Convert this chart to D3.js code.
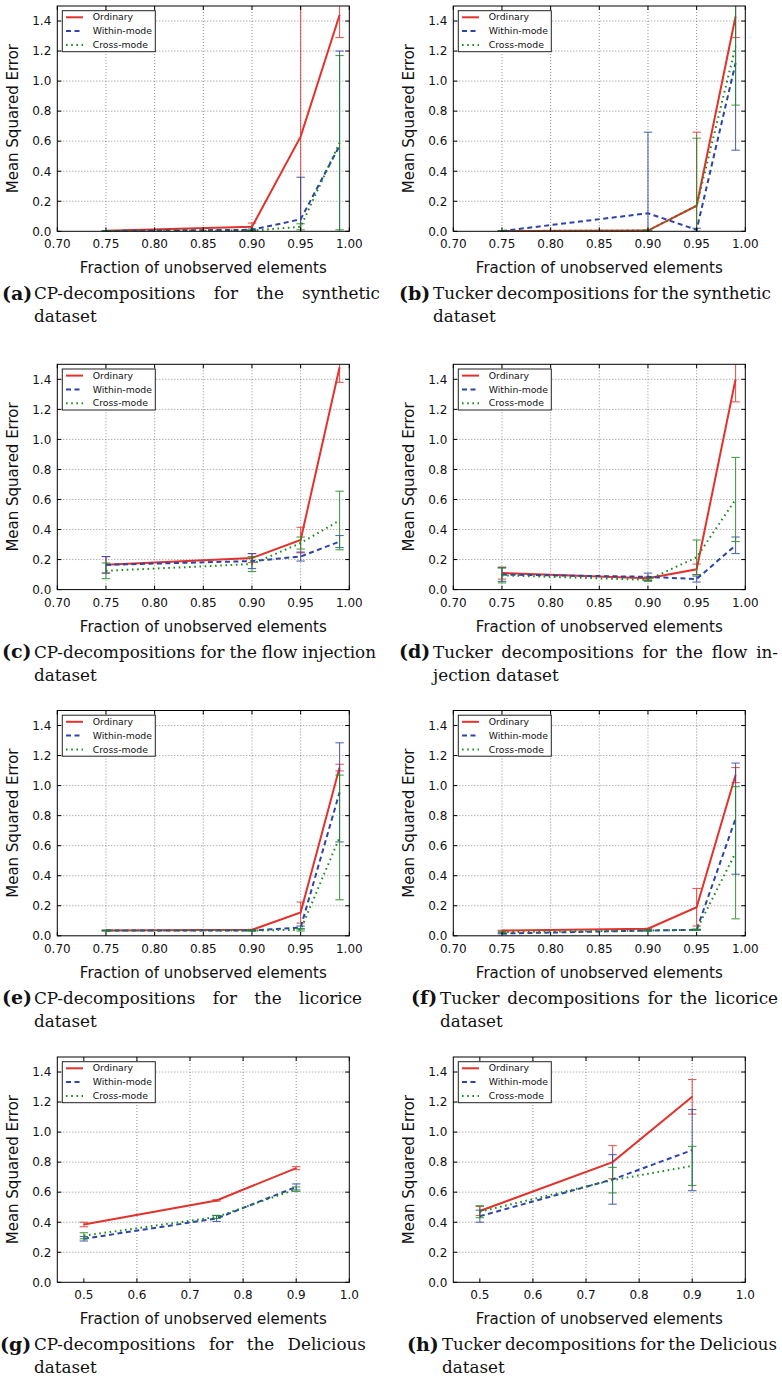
<!DOCTYPE html>
<html>
<head>
<meta charset="utf-8">
<script src="https://cdn.jsdelivr.net/npm/d3@7"></script>
<style>
  html, body { margin: 0; padding: 0; background: #fff; }
  svg { display: block; }
</style>
</head>
<body>
<svg id="chart" width="782" height="1376"></svg>
<script>
// x positions (fraction of unobserved elements)
const xFrac = [0.75, 0.90, 0.95, 0.99];
const xDelicious = [0.5, 0.75, 0.9];

const seriesNames = ['Ordinary', 'Within-mode', 'Cross-mode'];
const seriesColors = ['#e3322c', '#2e44a6', '#1d8a1d'];
const seriesDash = [null, '5,3.5', '1.6,3.6'];

// mean squared error, rows = Ordinary, Within-mode, Cross-mode
const synthCpMean  = [[0.003, 0.03, 0.63, 1.44], [0.002, 0.01, 0.08, 0.57], [0.002, 0.005, 0.03, 0.59]];
const synthCpErr   = [[0.002, 0.025, 1.0, 0.15], [0.001, 0.005, 0.28, 0.63], [0.001, 0.003, 0.02, 0.58]];

const synthTkMean  = [[0.002, 0.005, 0.17, 1.43], [0.002, 0.12, 0.01, 1.12], [0.002, 0.005, 0.17, 1.23]];
const synthTkErr   = [[0.001, 0.003, 0.49, 0.14], [0.001, 0.54, 0.01, 0.58], [0.001, 0.003, 0.45, 0.39]];

const flowCpMean   = [[0.165, 0.21, 0.33, 1.48], [0.165, 0.19, 0.22, 0.32], [0.125, 0.17, 0.31, 0.46]];
const flowCpErr    = [[0.055, 0.03, 0.085, 0.10], [0.055, 0.05, 0.03, 0.04], [0.052, 0.05, 0.04, 0.195]];

const flowTkMean   = [[0.11, 0.075, 0.135, 1.40], [0.10, 0.085, 0.07, 0.295], [0.095, 0.065, 0.215, 0.60]];
const flowTkErr    = [[0.04, 0.01, 0.035, 0.15], [0.045, 0.025, 0.02, 0.055], [0.05, 0.01, 0.115, 0.28]];

const licCpMean    = [[0.035, 0.04, 0.155, 1.12], [0.035, 0.035, 0.055, 0.955], [0.035, 0.035, 0.04, 0.655]];
const licCpErr     = [[0.002, 0.003, 0.07, 0.022], [0.002, 0.003, 0.01, 0.33], [0.002, 0.003, 0.008, 0.415]];

const licTkMean    = [[0.035, 0.047, 0.19, 1.07], [0.015, 0.035, 0.04, 0.78], [0.025, 0.035, 0.04, 0.553]];
const licTkErr     = [[0.002, 0.003, 0.125, 0.05], [0.002, 0.003, 0.003, 0.37], [0.002, 0.003, 0.003, 0.44]];

const delCpMean    = [[0.385, 0.545, 0.76], [0.29, 0.425, 0.635], [0.31, 0.435, 0.62]];
const delCpErr     = [[0.015, 0.005, 0.01], [0.015, 0.02, 0.02], [0.02, 0.01, 0.015]];

const delTkMean    = [[0.475, 0.80, 1.235], [0.44, 0.685, 0.88], [0.47, 0.68, 0.775]];
const delTkErr     = [[0.03, 0.11, 0.115], [0.04, 0.165, 0.27], [0.04, 0.085, 0.13]];

// tick labels
const xTicksFrac = [0.70, 0.75, 0.80, 0.85, 0.90, 0.95, 1.00];
const xTicksDel = [0.5, 0.6, 0.7, 0.8, 0.9, 1.0];
const yTicks = [0.0, 0.2, 0.4, 0.6, 0.8, 1.0, 1.2, 1.4];

// captions
const captionLabels = ['(a)', '(b)', '(c)', '(d)', '(e)', '(f)', '(g)', '(h)'];
const captionFirst = [
  'CP-decompositions for the synthetic',
  'Tucker decompositions for the synthetic',
  'CP-decompositions for the flow injection',
  'Tucker decompositions for the flow in-',
  'CP-decompositions for the licorice',
  'Tucker decompositions for the licorice',
  'CP-decompositions for the Delicious',
  'Tucker decompositions for the Delicious'
];
const captionSecond = ['dataset', 'dataset', 'dataset', 'jection dataset', 'dataset', 'dataset', 'dataset', 'dataset'];

const panels = [
  { x: xFrac, mean: synthCpMean, err: synthCpErr, dom: [0.70, 1.00], ticks: xTicksFrac, fmt: '.2f' },
  { x: xFrac, mean: synthTkMean, err: synthTkErr, dom: [0.70, 1.00], ticks: xTicksFrac, fmt: '.2f' },
  { x: xFrac, mean: flowCpMean, err: flowCpErr, dom: [0.70, 1.00], ticks: xTicksFrac, fmt: '.2f' },
  { x: xFrac, mean: flowTkMean, err: flowTkErr, dom: [0.70, 1.00], ticks: xTicksFrac, fmt: '.2f' },
  { x: xFrac, mean: licCpMean, err: licCpErr, dom: [0.70, 1.00], ticks: xTicksFrac, fmt: '.2f' },
  { x: xFrac, mean: licTkMean, err: licTkErr, dom: [0.70, 1.00], ticks: xTicksFrac, fmt: '.2f' },
  { x: xDelicious, mean: delCpMean, err: delCpErr, dom: [0.45, 1.00], ticks: xTicksDel, fmt: '.1f' },
  { x: xDelicious, mean: delTkMean, err: delTkErr, dom: [0.45, 1.00], ticks: xTicksDel, fmt: '.1f' }
];

// layout
const colLeft = [57.3, 453.3];
const rowTop = [6, 364.3, 710.5, 1057];
const plotW = 292, plotH = 225.3;
const labelX = [2, 399, 2, 399, 2, 411, 0, 407];
const textX0 = [34, 433, 34, 433, 34, 440, 34, 442];
const textX1 = [380, 771, 376, 778, 362, 778, 366, 777];

const sansFont = 'DejaVu Sans, Bitstream Vera Sans, sans-serif';
const serifFont = 'DejaVu Serif, serif';

const svg = d3.select('#chart');

panels.forEach((p, i) => {
  const left = colLeft[i % 2];
  const top = rowTop[Math.floor(i / 2)];
  const g = svg.append('g').attr('transform', `translate(${left},${top})`);

  const x = d3.scaleLinear().domain(p.dom).range([0, plotW]);
  const y = d3.scaleLinear().domain([0, 1.5]).range([plotH, 0]);

  const clipId = 'clip' + i;
  g.append('clipPath').attr('id', clipId)
    .append('rect').attr('width', plotW).attr('height', plotH);

  // grid
  const grid = g.append('g').attr('stroke', '#444').attr('stroke-width', 0.6)
    .attr('stroke-dasharray', '1,2');
  grid.selectAll('.gx').data(p.ticks.slice(1, -1)).join('line')
    .attr('x1', d => x(d)).attr('x2', d => x(d)).attr('y1', 0).attr('y2', plotH);
  grid.selectAll('.gy').data(yTicks.slice(1)).join('line')
    .attr('y1', d => y(d)).attr('y2', d => y(d)).attr('x1', 0).attr('x2', plotW);

  // series
  const plot = g.append('g').attr('clip-path', `url(#${clipId})`);
  p.mean.forEach((vals, s) => {
    const pts = vals.map((v, k) => ({ x: p.x[k], v: v, e: p.err[s][k] }));
    const eb = plot.append('g').attr('stroke', seriesColors[s]).attr('stroke-width', 1.1)
      .attr('opacity', 0.8);
    eb.selectAll('.bar').data(pts).join('line')
      .attr('x1', d => x(d.x)).attr('x2', d => x(d.x))
      .attr('y1', d => y(d.v - d.e)).attr('y2', d => y(d.v + d.e));
    eb.selectAll('.capHi').data(pts).join('line')
      .attr('x1', d => x(d.x) - 4.2).attr('x2', d => x(d.x) + 4.2)
      .attr('y1', d => y(d.v + d.e)).attr('y2', d => y(d.v + d.e));
    eb.selectAll('.capLo').data(pts).join('line')
      .attr('x1', d => x(d.x) - 4.2).attr('x2', d => x(d.x) + 4.2)
      .attr('y1', d => y(d.v - d.e)).attr('y2', d => y(d.v - d.e));

    const line = d3.line().x(d => x(d.x)).y(d => y(d.v));
    plot.append('path').datum(pts)
      .attr('fill', 'none')
      .attr('stroke', seriesColors[s])
      .attr('stroke-width', 2)
      .attr('stroke-dasharray', seriesDash[s])
      .attr('d', line);
  });

  // frame
  g.append('rect').attr('width', plotW).attr('height', plotH)
    .attr('fill', 'none').attr('stroke', '#000').attr('stroke-width', 1);

  // inward ticks on all sides
  const tk = g.append('g').attr('stroke', '#000').attr('stroke-width', 1);
  p.ticks.forEach(t => {
    tk.append('line').attr('x1', x(t)).attr('x2', x(t)).attr('y1', plotH).attr('y2', plotH - 4);
    tk.append('line').attr('x1', x(t)).attr('x2', x(t)).attr('y1', 0).attr('y2', 4);
  });
  yTicks.forEach(t => {
    tk.append('line').attr('x1', 0).attr('x2', 4).attr('y1', y(t)).attr('y2', y(t));
    tk.append('line').attr('x1', plotW).attr('x2', plotW - 4).attr('y1', y(t)).attr('y2', y(t));
  });

  // tick labels
  g.selectAll('.xl').data(p.ticks).join('text')
    .attr('x', d => x(d)).attr('y', plotH + 17)
    .attr('text-anchor', 'middle')
    .attr('font-family', sansFont).attr('font-size', 12).attr('fill', '#111')
    .text(d => d3.format(p.fmt)(d));
  g.selectAll('.yl').data(yTicks).join('text')
    .attr('x', -6).attr('y', d => y(d) + 4.3)
    .attr('text-anchor', 'end')
    .attr('font-family', sansFont).attr('font-size', 12).attr('fill', '#111')
    .text(d => d3.format('.1f')(d));

  // axis titles
  g.append('text')
    .attr('x', plotW / 2).attr('y', plotH + 42)
    .attr('text-anchor', 'middle')
    .attr('font-family', sansFont).attr('font-size', 15).attr('fill', '#111')
    .text('Fraction of unobserved elements');
  g.append('text')
    .attr('transform', `translate(-39,${plotH / 2}) rotate(-90)`)
    .attr('text-anchor', 'middle')
    .attr('font-family', sansFont).attr('font-size', 15).attr('fill', '#111')
    .text('Mean Squared Error');

  // legend
  const lg = g.append('g').attr('transform', 'translate(5,4.7)');
  lg.append('rect').attr('width', 93).attr('height', 41)
    .attr('fill', '#fff').attr('stroke', '#222').attr('stroke-width', 1);
  seriesNames.forEach((name, s) => {
    const yy = 6.6 + s * 13.8;
    lg.append('line').attr('x1', 3.7).attr('x2', 20.7).attr('y1', yy).attr('y2', yy)
      .attr('stroke', seriesColors[s]).attr('stroke-width', 2)
      .attr('stroke-dasharray', seriesDash[s]);
    lg.append('text').attr('x', 30.4).attr('y', yy + 3.2)
      .attr('font-family', sansFont).attr('font-size', 9.3).attr('fill', '#111')
      .text(name);
  });

  // caption, first line justified between textX0 and textX1
  const cy = top + plotH + 68;
  const cap = svg.append('g').attr('fill', '#111').attr('font-family', serifFont);
  cap.append('text').attr('x', labelX[i]).attr('y', cy + 0.5)
    .attr('font-size', 19).attr('font-weight', 'bold')
    .text(captionLabels[i]);
  const words = captionFirst[i].split(' ');
  const spans = words.map(w => cap.append('text').attr('y', cy)
    .attr('font-size', 16.8).text(w));
  let widths = spans.map(sp => sp.node().getComputedTextLength());
  const avail = textX1[i] - textX0[i];
  const minGap = 4;
  const natural = d3.sum(widths) + minGap * (words.length - 1);
  if (natural > avail) {
    const k = (avail - minGap * (words.length - 1)) / d3.sum(widths);
    spans.forEach((sp, j) => {
      sp.attr('textLength', widths[j] * k).attr('lengthAdjust', 'spacingAndGlyphs');
    });
    widths = widths.map(w => w * k);
  }
  const gap = (avail - d3.sum(widths)) / (words.length - 1);
  let cx = textX0[i];
  spans.forEach((sp, j) => { sp.attr('x', cx); cx += widths[j] + gap; });
  cap.append('text').attr('x', textX0[i]).attr('y', cy + 23)
    .attr('font-size', 16.8)
    .text(captionSecond[i]);
});
</script>
</body>
</html>
